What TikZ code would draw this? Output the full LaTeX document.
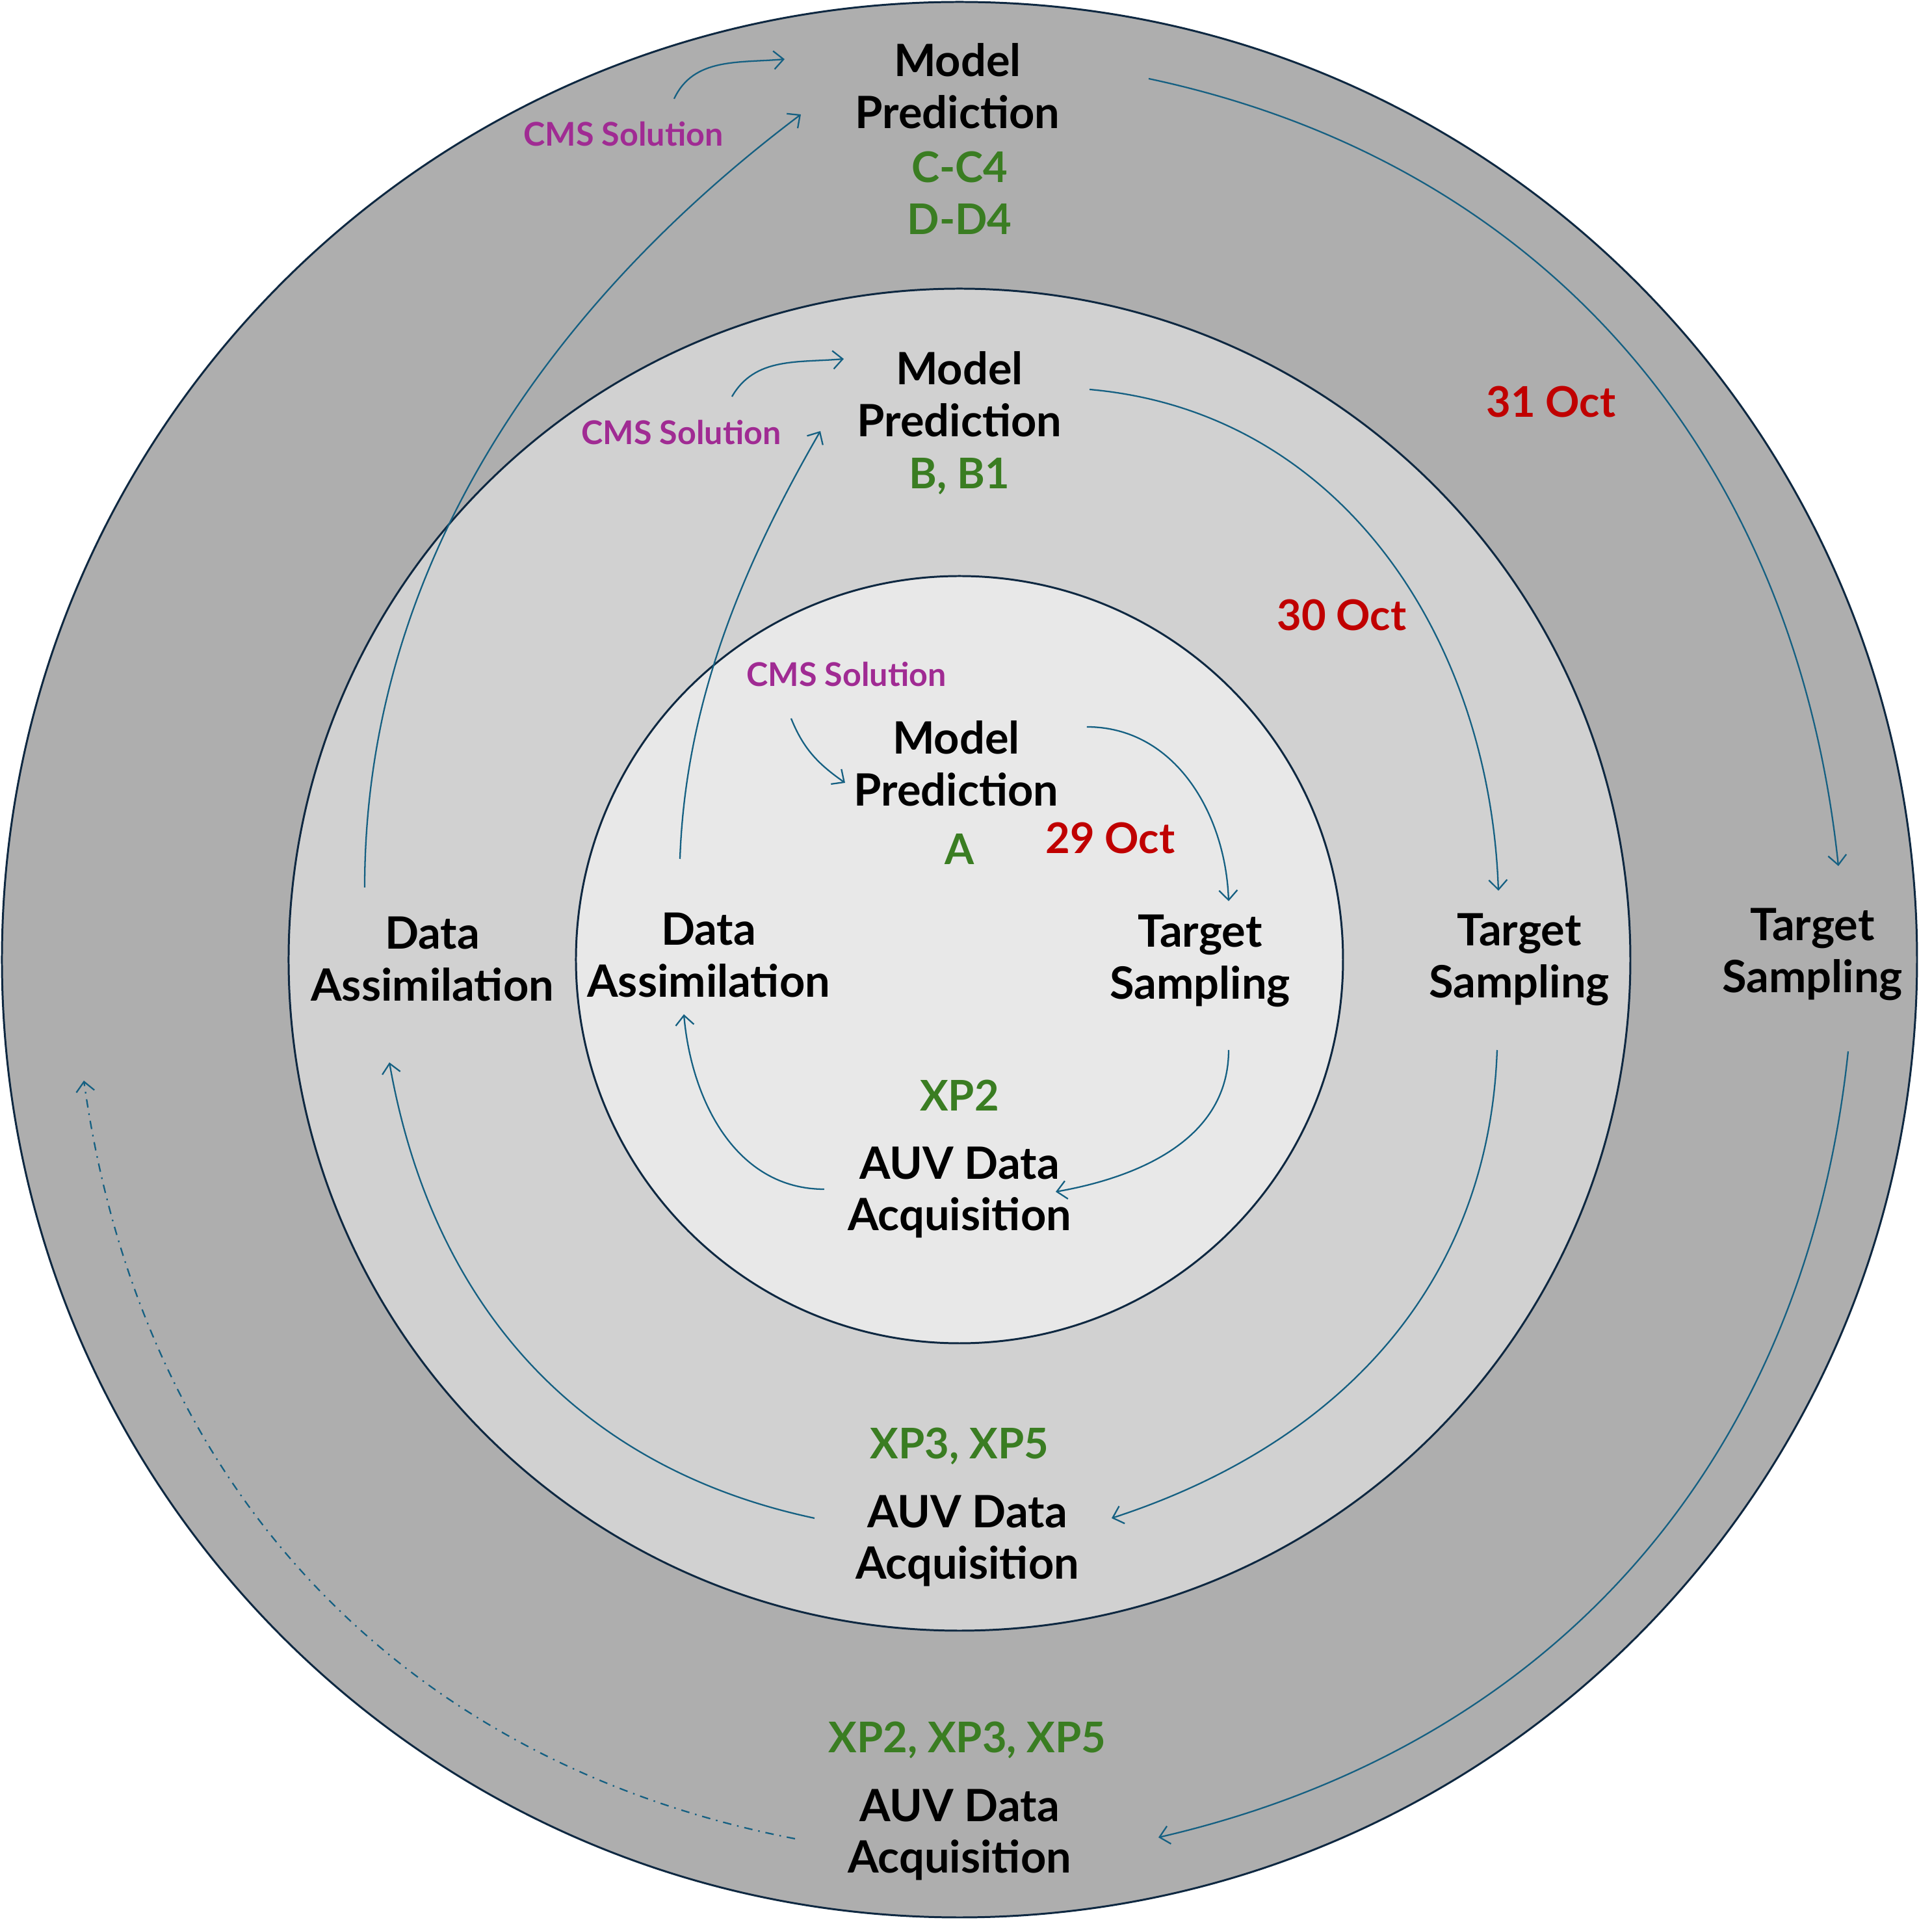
\documentclass[tikz,border=0pt]{standalone}
\usepackage{fontspec}
\setmainfont{Lato}
\usetikzlibrary{arrows.meta}
\definecolor{outerfill}{HTML}{AEAEAE}
\definecolor{middlefill}{HTML}{D1D1D1}
\definecolor{innerfill}{HTML}{E8E8E8}
\definecolor{ringline}{HTML}{0E2841}
\definecolor{flowblue}{HTML}{156082}
\definecolor{expgreen}{HTML}{3A7D22}
\definecolor{datered}{HTML}{C00000}
\definecolor{cmspink}{HTML}{A02B93}

\begin{document}
\begin{tikzpicture}[
	stage/.style={font=\bfseries\fontsize{19.5}{22.7}\selectfont, align=center, inner sep=0pt},
	runlbl/.style={stage, font=\bfseries\fontsize{18.5}{22.7}\selectfont, text=expgreen},
	daylbl/.style={stage, font=\bfseries\fontsize{18.5}{22.7}\selectfont, text=datered},
	cms/.style={font=\bfseries\fontsize{14.3}{16}\selectfont, text=cmspink, inner sep=0pt},
	flow/.style={draw=flowblue, line width=0.65pt, -{Straight Barb[length=1.5mm,width=2.8mm]}},
	ring/.style={draw=ringline, line width=0.85pt}
	]
	
	\useasboundingbox (-14.76,-14.77) rectangle (14.96,14.76);
	
	\draw[ring, fill=outerfill] (0,0) circle (14.73);
	\draw[ring, fill=middlefill] (0,0) circle (10.32);
	\draw[ring, fill=innerfill] (0,0) circle (5.90);
	
	% 29 Oct
	\node[stage] (mpA) at (-0.05, 3.02) {Model\\Prediction};
	\node[runlbl] (runA) at (0, 1.70) {A};
	\node[daylbl] (dayA) at (2.32, 1.87) {29 Oct};
	\node[stage] (tsA) at (3.70, -0.02) {Target\\Sampling};
	\node[runlbl] (xpA) at (0, -2.09) {XP2};
	\node[stage] (auvA) at (0, -3.58) {AUV Data\\Acquisition};
	\node[stage] (daA) at (-3.86, 0.07) {Data\\Assimilation};
	\node[cms] (cmsA) at (-1.74, 4.39) {CMS Solution};
	
	% 30 Oct
	\node[stage] (mpB) at (0, 8.70) {Model\\Prediction};
	\node[runlbl] (runB) at (0, 7.43) {B, B1};
	\node[daylbl] (dayB) at (5.88, 5.30) {30 Oct};
	\node[stage] (tsB) at (8.61, 0.00) {Target\\Sampling};
	\node[runlbl] (xpB) at (0, -7.48) {XP3, XP5};
	\node[stage] (auvB) at (0.12, -8.94) {AUV Data\\Acquisition};
	\node[stage] (daB) at (-8.11, 0.01) {Data\\Assimilation};
	\node[cms] (cmsB) at (-4.28, 8.11) {CMS Solution};
	
	% 31 Oct
	\node[stage] (mpC) at (-0.03, 13.44) {Model\\Prediction};
	\node[runlbl] (runC) at (0, 11.79) {C-C4\\D-D4};
	\node[daylbl] (dayC) at (9.10, 8.58) {31 Oct};
	\node[stage] (tsC) at (13.12, 0.08) {Target\\Sampling};
	\node[runlbl] (xpC) at (0.12, -12.00) {XP2, XP3, XP5};
	\node[stage] (auvC) at (0, -13.46) {AUV Data\\Acquisition};
	\node[cms] (cmsC) at (-5.17, 12.70) {CMS Solution};
	\coordinate (nextcycle) at (-13.47, -1.86);
	
	\draw[flow] ([shift={(-0.85,-0.68)}]cmsA.center) to[out=-68, in=145] ([shift={(-1.71,-0.30)}]mpA.center);
	\draw[flow] ([shift={(2.01,0.56)}]mpA.center) to[out=0, in=92] ([shift={(0.44,0.92)}]tsA.center);
	\draw[flow] ([shift={(0.44,-1.37)}]tsA.center) to[out=-90, in=10] ([shift={(1.48,0.01)}]auvA.center);
	\draw[flow] ([shift={(-2.08,0.05)}]auvA.center) to[out=180, in=-85] ([shift={(-0.38,-0.91)}]daA.center);
	\draw[flow] ([shift={(-0.44,1.48)}]daA.center) .. controls +(88:2.4) and +(240:2.4) .. ([shift={(-2.14,-0.57)}]mpB.center);
	
	\draw[flow] ([shift={(0.78,0.55)}]cmsB.center) to[out=60, in=185] ([shift={(-1.78,0.54)}]mpB.center);
	\draw[flow] ([shift={(2.00,0.07)}]mpB.center) to[out=-5, in=92] ([shift={(-0.32,1.06)}]tsB.center);
	\draw[flow] ([shift={(-0.34,-1.39)}]tsB.center) to[out=-92, in=18] ([shift={(2.22,0.35)}]auvB.center);
	\draw[flow] ([shift={(-2.35,0.35)}]auvB.center) to[out=168, in=-80] ([shift={(-0.66,-1.59)}]daB.center);
	\draw[flow] ([shift={(-1.04,1.10)}]daB.center) .. controls +(90:4.9) and +(217:4.9) .. ([shift={(-2.41,-0.44)}]mpC.center);
	
	\draw[flow] ([shift={(0.78,0.54)}]cmsC.center) to[out=65, in=185] ([shift={(-2.66,0.41)}]mpC.center);
	\draw[flow] ([shift={(2.94,0.11)}]mpC.center) to[out=-12, in=96] ([shift={(0.40,1.36)}]tsC.center);
	\draw[flow] ([shift={(0.55,-1.49)}]tsC.center) to[out=-96, in=13] ([shift={(3.06,-0.04)}]auvC.center);
	\draw[flow, dash pattern=on 1.3mm off 0.9mm on 0.25mm off 0.9mm] ([shift={(-2.53,-0.06)}]auvC.center) to[out=169, in=-82] (nextcycle);
	
\end{tikzpicture}
\end{document}
